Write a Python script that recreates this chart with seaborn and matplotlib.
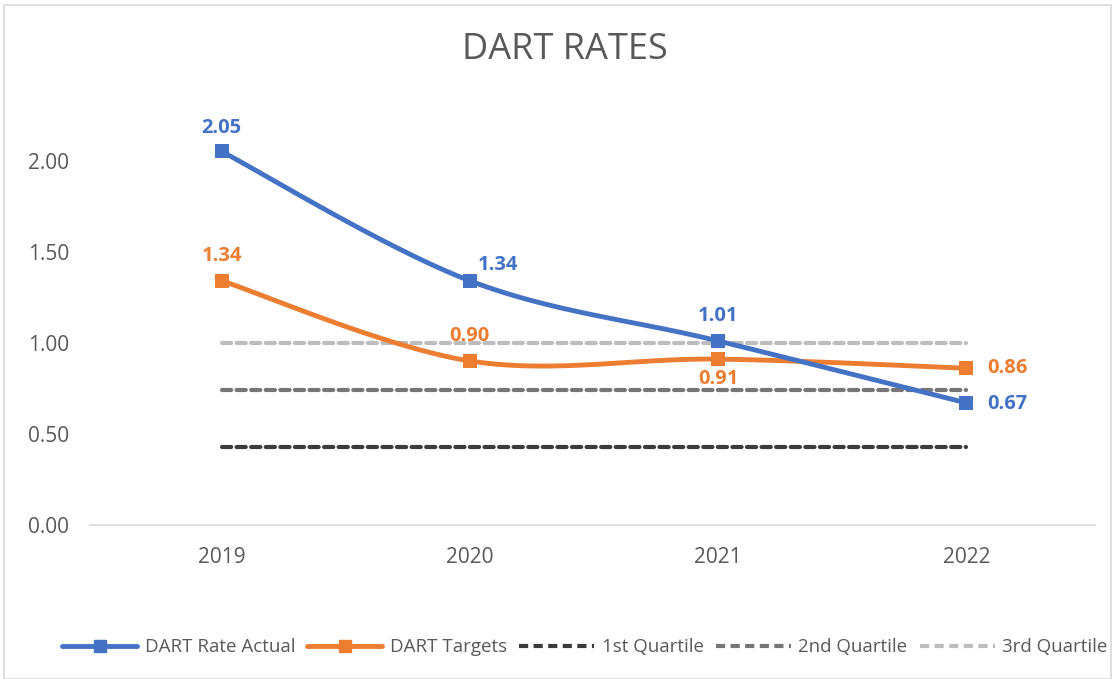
import numpy as np
import pandas as pd
import matplotlib
matplotlib.use("Agg")
import matplotlib.pyplot as plt
import seaborn as sns
from matplotlib.lines import Line2D
from matplotlib.patches import Rectangle

# Dados
anos = ["2019", "2020", "2021", "2022"]
dart_actual = [2.05, 1.34, 1.01, 0.67]
dart_targets = [1.34, 0.90, 0.91, 0.86]
q1 = [0.43, 0.43, 0.43, 0.43]
q2 = [0.74, 0.74, 0.74, 0.74]
q3 = [1.00, 1.00, 1.00, 1.00]

AZUL = "#4472C4"
LARANJA = "#ED7D31"
CINZA_TXT = "#595959"

sns.set_style("white")
plt.rcParams["font.family"] = ["Open Sans", "DejaVu Sans"]


def suavizar(y, n=40):
    """Curva suavizada estilo Excel (Catmull-Rom) passando pelos pontos."""
    y = np.asarray(y, dtype=float)
    x = np.arange(len(y), dtype=float)
    pts = np.column_stack([x, y])
    ext = np.vstack([pts[0], pts, pts[-1]])
    out = []
    t = np.linspace(0, 1, n)
    for i in range(1, len(ext) - 2):
        p0, p1, p2, p3 = ext[i - 1], ext[i], ext[i + 1], ext[i + 2]
        c1 = p1 + (p2 - p0) / 6
        c2 = p2 - (p3 - p1) / 6
        seg = ((1 - t) ** 3)[:, None] * p1 + (3 * (1 - t) ** 2 * t)[:, None] * c1 \
            + (3 * (1 - t) * t ** 2)[:, None] * c2 + (t ** 3)[:, None] * p2
        out.append(seg)
    seg = np.vstack(out)
    return pd.DataFrame({"x": seg[:, 0], "y": seg[:, 1]})


fig = plt.figure(figsize=(11.12, 6.79), dpi=100)
ax = fig.add_axes([0.081, 0.227, 0.904, 0.617])
fig.patches.append(Rectangle((0.004, 0.0), 0.995, 0.993, transform=fig.transFigure,
                             fill=False, edgecolor="#d9d9d9", linewidth=1.2))

xs = np.arange(len(anos))
tracejado = (0, (2.2, 1.3))

# Linhas de quartil
for vals, cor in [(q1, "#3b3b3b"), (q2, "#767676"), (q3, "#bdbdbd")]:
    sns.lineplot(x=xs, y=vals, ax=ax, color=cor, linewidth=3, linestyle=tracejado,
                 dash_capstyle="round")

# Séries principais suavizadas
for vals, cor in [(dart_targets, LARANJA), (dart_actual, AZUL)]:
    curva = suavizar(vals)
    sns.lineplot(data=curva, x="x", y="y", ax=ax, color=cor, linewidth=3.5, sort=False,
                 solid_capstyle="round")
    sns.scatterplot(x=xs, y=vals, ax=ax, color=cor, marker="s", s=110, edgecolor=cor,
                    linewidth=0, zorder=5)

# Rótulos de dados
off_actual = [(0, 10, "center", "bottom"), (6, 4, "left", "bottom"),
              (0, 11, "center", "bottom"), (15, -1, "left", "center")]
off_target = [(0, 11, "center", "bottom"), (0, 11, "center", "bottom"),
              (0, -7, "center", "top"), (15, 0, "left", "center")]
for vals, offs, cor in [(dart_actual, off_actual, AZUL), (dart_targets, off_target, LARANJA)]:
    for x, v, (dx, dy, ha, va) in zip(xs, vals, offs):
        ax.annotate(f"{v:.2f}", (x, v), xytext=(dx, dy), textcoords="offset points",
                    ha=ha, va=va, color=cor, fontsize=14.5, fontweight="bold")

ax.set_xlim(-0.53, 3.52)
ax.set_ylim(0, 2.3)
ax.set_xticks(xs)
ax.set_xticklabels(anos)
ax.set_yticks([0, 0.5, 1.0, 1.5, 2.0])
ax.set_yticklabels([f"{v:.2f}" for v in [0, 0.5, 1.0, 1.5, 2.0]])
ax.tick_params(axis="both", labelsize=15, colors=CINZA_TXT, length=0)
ax.tick_params(axis="x", pad=16)
ax.tick_params(axis="y", pad=15)
ax.set_xlabel("")
ax.set_ylabel("")
for lado in ["top", "right", "left"]:
    ax.spines[lado].set_visible(False)
ax.spines["bottom"].set_color("#d9d9d9")
ax.spines["bottom"].set_linewidth(1.2)

fig.text(0.508, 0.926, "DART RATES", ha="center", va="center", fontsize=26, color=CINZA_TXT)

handles = [
    Line2D([], [], color=AZUL, lw=3.5, marker="s", markersize=8),
    Line2D([], [], color=LARANJA, lw=3.5, marker="s", markersize=8),
    Line2D([], [], color="#3b3b3b", lw=3, linestyle=tracejado),
    Line2D([], [], color="#767676", lw=3, linestyle=tracejado),
    Line2D([], [], color="#bdbdbd", lw=3, linestyle=tracejado),
]
labels = ["DART Rate Actual", "DART Targets", "1st Quartile", "2nd Quartile", "3rd Quartile"]
fig.legend(handles, labels, loc="center", bbox_to_anchor=(0.526, 0.047), ncol=5,
           frameon=False, fontsize=13.5, handlelength=4.0, columnspacing=0.65,
           handletextpad=0.4, labelcolor=CINZA_TXT)

fig.savefig("out.png", dpi=100)
